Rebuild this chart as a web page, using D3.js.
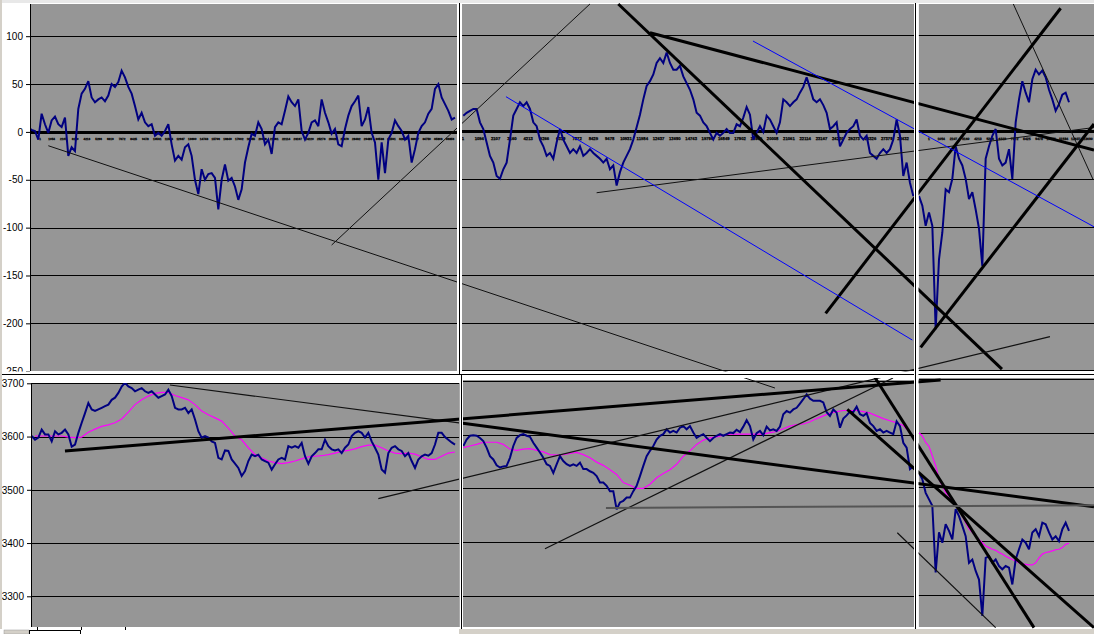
<!DOCTYPE html>
<html><head><meta charset="utf-8">
<script src="https://cdn.jsdelivr.net/npm/d3@7"></script>
<style>body{margin:0;background:#fff;} svg{display:block;font-family:Arial,"Liberation Sans",sans-serif;}</style>
</head><body>
<script>
// ---------- DATA ----------
const topTicks = [100, 50, 0, -50, -100, -150, -200, -250];
const botTicks = [3700, 3600, 3500, 3400, 3300];
// tiny category labels printed along the zero line of the upper chart
const catLabels = ["1","1054","2107","3160","4213","5266","6319","7372","8425","9478","10531","11584","12637","13690","14743","15796","16849","17902","18955","20008","21061","22114","23167","24220","25273","26326","27379","28432","29485","30538","31591","32644","33697","34750","35803","36856","37909","38962","40015","41068"];

const topLeft = [5,2,1,-8,19,8,-1,12,16,8,5,15,-25,-16,-20,24,40,45,53,36,31,34,36,32,38,50,47,52,64,57,47,40,27,13,20,10,6,8,-4,-1,-4,1,8,-13,-30,-25,-29,-16,-13,-25,-50,-65,-39,-50,-44,-43,-48,-81,-50,-34,-51,-48,-57,-71,-60,-32,-16,-2,-4,10,3,-13,-8,-23,5,10,8,22,37,31,27,34,1,-8,-1,10,12,6,34,20,10,-2,3,-13,-15,3,17,27,32,38,6,13,26,-1,-11,-50,-11,-43,-8,-1,12,6,1,-8,-4,-32,-18,-1,6,10,19,24,45,50,36,29,22,13,15];
const topMid = [16,19,21,23,23,9,2,-12,-26,-33,-47,-50,-40,-33,-9,16,23,30,26,30,23,9,5,-9,-16,-26,-23,-29,-12,2,-9,-16,-23,-19,-23,-16,-26,-23,-19,-23,-26,-29,-33,-29,-40,-36,-57,-43,-33,-26,-19,-9,4,17,33,47,52,59,71,76,71,82,71,64,64,68,57,50,43,33,19,16,9,5,-2,-9,-2,-5,-2,2,-2,-2,7,5,14,25,17,-9,-2,5,-1,16,12,5,-2,9,33,30,26,30,33,40,46,56,45,33,30,33,27,19,2,5,9,-16,-9,-2,2,5,12,-5,-9,-5,-23,-26,-29,-23,-19,-23,-19,-9,12,-5,-47,-33,-54,-68];
const topRight = [-68,-78,-99,-85,-99,-207,-134,-106,-61,-64,-50,-16,-29,-36,-50,-71,-64,-82,-102,-141,-29,-16,-5,2,-29,-36,-33,-19,-50,9,33,52,40,30,54,64,59,63,56,43,33,21,28,38,40,30];

const botLeft = [3601,3594,3598,3613,3604,3604,3591,3610,3604,3607,3613,3604,3581,3585,3607,3626,3644,3663,3651,3648,3651,3654,3657,3660,3669,3673,3682,3694,3701,3694,3691,3685,3688,3691,3685,3682,3685,3679,3673,3676,3679,3688,3676,3654,3651,3651,3654,3644,3651,3632,3610,3598,3601,3598,3591,3588,3560,3557,3574,3573,3557,3549,3541,3526,3535,3554,3566,3563,3566,3557,3554,3551,3538,3548,3557,3560,3557,3582,3579,3582,3579,3588,3563,3549,3563,3569,3576,3576,3594,3582,3576,3574,3576,3569,3579,3585,3601,3607,3610,3607,3598,3607,3591,3579,3566,3538,3532,3569,3579,3582,3576,3573,3563,3569,3554,3541,3557,3563,3566,3564,3569,3585,3607,3607,3599,3594,3589,3585];
const botLeftMA = [3601,3601,3601,3601,3601,3599,3598,3599,3608,3614,3619,3622,3626,3633,3646,3660,3669,3676,3681,3683,3683,3677,3673,3669,3660,3648,3641,3635,3629,3616,3601,3594,3579,3566,3560,3554,3551,3549,3551,3554,3558,3562,3563,3564,3566,3569,3572,3574,3577,3581,3584,3584,3579,3573,3569,3568,3569,3567,3562,3557,3557,3563,3569,3571];
const botMid = [3579,3591,3598,3599,3598,3594,3588,3576,3560,3554,3543,3539,3541,3542,3557,3579,3594,3599,3601,3598,3596,3585,3576,3567,3557,3545,3542,3529,3545,3560,3551,3545,3542,3545,3542,3548,3536,3536,3532,3529,3523,3511,3511,3505,3495,3495,3461,3474,3477,3483,3483,3495,3505,3523,3542,3560,3570,3579,3591,3598,3601,3610,3604,3607,3604,3613,3616,3610,3616,3604,3594,3598,3601,3594,3588,3594,3598,3601,3598,3601,3604,3603,3609,3605,3615,3627,3616,3591,3603,3607,3599,3615,3608,3610,3607,3615,3638,3644,3641,3647,3650,3658,3666,3675,3667,3663,3663,3663,3660,3642,3635,3647,3641,3613,3630,3636,3643,3642,3652,3638,3635,3640,3622,3616,3607,3610,3604,3607,3604,3601,3625,3616,3585,3576,3536,3541];
const botMidMA = [3576,3579,3582,3586,3586,3586,3582,3573,3571,3573,3574,3571,3568,3563,3562,3563,3565,3567,3563,3557,3549,3543,3535,3526,3511,3506,3500,3500,3508,3520,3528,3535,3545,3560,3570,3582,3590,3594,3596,3599,3601,3601,3601,3601,3601,3601,3604,3606,3611,3616,3619,3620,3624,3630,3635,3640,3643,3645,3645,3645,3643,3640,3635,3630,3626,3622,3617,3604];
const botRight = [3526,3514,3489,3477,3465,3342,3416,3397,3431,3419,3403,3459,3446,3428,3409,3360,3366,3345,3329,3262,3369,3372,3360,3366,3354,3348,3354,3351,3320,3366,3385,3403,3397,3385,3416,3422,3409,3434,3431,3416,3403,3409,3400,3422,3434,3419];
const botRightMA = [3600,3594,3582,3575,3557,3539,3514,3502,3489,3483,3474,3468,3462,3446,3434,3422,3416,3409,3403,3397,3391,3388,3385,3383,3379,3376,3372,3369,3366,3363,3360,3358,3357,3356,3356,3360,3369,3376,3379,3380,3382,3384,3385,3388,3394,3396];

// Drawn trend lines, in the middle window's data units: [index1, value1, index2, value2]
const topThinLines  = [[-124.5,-15.4,93.5,-268.4],[-39.5,-119.1,38.0,132.6],[40.0,-64.5,189.2,3.6],[165.0,132.6,189.0,-51.2]];
const topThickLines = [[46.5,132.6,161.6,-248.6],[56.0,102.6,189.2,-19.9],[108.7,-190.4,179.2,128.1],[137.2,-225.9,189.2,7.3]];
const topBlueLines  = [[12.8,35.8,134.7,-218.3],[86.9,93.9,189.2,-100.0]];
const botThinLines  = [[-88.0,3692.4,-0.7,3621.6],[-25.5,3481.0,176.0,3782.3],[24.5,3388.0,128.9,3705.4],[130.2,3417.7,159.7,3241.1]];
const botThickLines = [[-119.5,3569.7,143.2,3701.7],[-0.7,3621.6,189.2,3465.9],[123.2,3709.2,171.2,3241.1],[115.2,3647.2,189.2,3241.1]];
const botGrayLines  = [[42.8,3463.7,189.2,3468.7]];

// ---------- LAYOUT ----------
const W = 1094, H = 634;
const svg = d3.select('body').append('svg').attr('width', W).attr('height', H);
svg.append('rect').attr('width', W).attr('height', H).attr('fill', '#fff');
const defs = svg.append('defs');

const windows = [
  {id:'tL', panel:'top', box:[30,4,457,371],  dx:[28.3,455],   yd:[-250,100], yr:[371.2,36.2], s:topLeft, axis:true, cat:{n:36, r:[40,450], fs:3, y:140}},
  {id:'tM', panel:'top', box:[462,4,914,371], dx:[463.3,913.3], yd:[-250,100], yr:[370.4,35.2], s:topMid, cat:{n:28, r:[463,903], fs:4.2, y:139.5}},
  {id:'tR', panel:'top', box:[918.5,4,1094,371],dx:[919,1069],   yd:[-250,100], yr:[370.4,35.2], s:topRight, cat:{n:14, r:[929,1088], fs:3.4, y:139.5}},
  {id:'bL', panel:'bot', box:[31,383,459,627], dx:[31.7,455],  yd:[3300,3700], yr:[596.3,383.3], s:botLeft, ma:botLeftMA, madx:[35,455], axis:true},
  {id:'bM', panel:'bot', box:[463,380,914,627],dx:[463.3,913.3],yd:[3300,3600], yr:[596,434.7], s:botMid, ma:botMidMA, madx:[463.3,910]},
  {id:'bR', panel:'bot', box:[918.5,378,1094,627],dx:[919,1069],  yd:[3300,3600], yr:[595.3,432.7], s:botRight, ma:botRightMA, madx:[919,1069]}
];

const scales = {};
windows.forEach(w => {
  const [x0,y0,x1,y1] = w.box;
  const x = d3.scaleLinear().domain([0, w.s.length-1]).range(w.dx);
  const y = d3.scaleLinear().domain(w.yd).range(w.yr);
  scales[w.id] = {x, y};
  defs.append('clipPath').attr('id','clip-'+w.id).append('rect')
    .attr('x',x0).attr('y',y0).attr('width',x1-x0).attr('height',y1-y0);
  const g = svg.append('g').attr('clip-path','url(#clip-'+w.id+')');
  g.append('rect').attr('x',x0).attr('y',y0).attr('width',x1-x0).attr('height',y1-y0).attr('fill','#969696');
  const ticks = w.panel==='top' ? topTicks : botTicks;
  ticks.forEach(t => {
    const yy = Math.round(y(t)) + 0.5;
    g.append('line').attr('x1',x0).attr('x2',x1).attr('y1',yy).attr('y2',yy)
      .attr('stroke','#000').attr('stroke-width', (w.panel==='top' && t===0) ? 3 : 1);
  });
  if (w.cat) {
    const labs = catLabels.slice(0, w.cat.n);
    const xc = d3.scalePoint().domain(labs).range(w.cat.r);
    g.append('g').style('text-rendering','geometricPrecision').selectAll('text').data(labs).enter().append('text')
      .attr('x', d=>xc(d)).attr('y', w.cat.y).attr('text-anchor','middle')
      .attr('font-size', w.cat.fs).attr('font-weight','bold').attr('fill','#000')
      .attr('stroke','#000').attr('stroke-width',0.25)
      .text(d=>d);
  }
  const line = d3.line().x((d,i)=>x(i)).y(d=>y(d));
  if (w.ma) {
    const xm = d3.scaleLinear().domain([0, w.ma.length-1]).range(w.madx);
    g.append('path').attr('d', d3.line().x((d,i)=>xm(i)).y(d=>y(d))(w.ma))
      .attr('fill','none').attr('stroke','#ff00ff').attr('stroke-width',1.2);
  }
  g.append('path').attr('d', line(w.s)).attr('fill','none')
    .attr('stroke','#000080').attr('stroke-width',2).attr('stroke-linejoin','miter').attr('stroke-miterlimit',3);
  if (w.axis) {
    const ag = svg.append('g').attr('transform',`translate(${x0},0)`);
    if (w.panel==='top') {
      defs.append('clipPath').attr('id','clip-ax').append('rect').attr('x',-40).attr('y',0).attr('width',60).attr('height',372.5);
      ag.attr('clip-path','url(#clip-ax)');
    }
    ag.call(d3.axisLeft(y).tickValues(ticks).tickSize(4).tickPadding(3).tickFormat(d=>String(d)));
    ag.select('.domain').remove();
    ag.selectAll('text').attr('font-size',10).attr('fill','#000').attr('font-family','Arial, "Liberation Sans", sans-serif');
    ag.selectAll('line').attr('stroke','#000');
    svg.append('line').attr('x1',x0+0.5).attr('x2',x0+0.5).attr('y1',y0).attr('y2',y1).attr('stroke','#000');
  }
});

// ---------- drawn trend lines ----------
const lg = svg.append('g');
function drawLines(arr, sc, color, width) {
  lg.selectAll(null).data(arr).enter().append('line')
    .attr('x1', d=>sc.x(d[0])).attr('y1', d=>sc.y(d[1]))
    .attr('x2', d=>sc.x(d[2])).attr('y2', d=>sc.y(d[3]))
    .attr('stroke', color).attr('stroke-width', width);
}
drawLines(topThinLines, scales.tM, '#111', 1);
drawLines(topThickLines, scales.tM, '#000', 3);
drawLines(topBlueLines, scales.tM, '#0000ff', 1);
drawLines(botThinLines, scales.bM, '#111', 1.2);
drawLines(botThickLines, scales.bM, '#000', 3);
drawLines(botGrayLines, scales.bM, '#555', 2);

// ---------- window split bars ----------
const sep = svg.append('g');
sep.append('rect').attr('x',0).attr('y',371.5).attr('width',W).attr('height',6.5).attr('fill','#fff');
sep.append('line').attr('x1',0).attr('x2',W).attr('y1',374.5).attr('y2',374.5).attr('stroke','#000');
sep.append('rect').attr('x',457).attr('y',3).attr('width',5).attr('height',369).attr('fill','#fff');
sep.append('line').attr('x1',459.5).attr('x2',459.5).attr('y1',3).attr('y2',375).attr('stroke','#000');
sep.append('rect').attr('x',459).attr('y',375).attr('width',4).attr('height',253).attr('fill','#fff');
sep.append('line').attr('x1',459.5).attr('x2',459.5).attr('y1',383).attr('y2',627).attr('stroke','#aaa');
sep.append('line').attr('x1',461.5).attr('x2',461.5).attr('y1',374.5).attr('y2',629).attr('stroke','#000');
sep.append('rect').attr('x',914).attr('y',3).attr('width',4.5).attr('height',625).attr('fill','#fff');
sep.append('line').attr('x1',915.5).attr('x2',915.5).attr('y1',3).attr('y2',629).attr('stroke','#000');
sep.append('rect').attr('x',0).attr('y',0).attr('width',W).attr('height',3).attr('fill','#e8e8e8');
sep.append('rect').attr('x',0).attr('y',0).attr('width',2).attr('height',H).attr('fill','#d4d0c8');
sep.append('rect').attr('x',0).attr('y',629).attr('width',W).attr('height',5).attr('fill','#fff');
sep.append('rect').attr('x',459).attr('y',629).attr('width',W-459).attr('height',5).attr('fill','#d4d0c8');
[37,81,125].forEach(xx => sep.append('line').attr('x1',xx+0.5).attr('x2',xx+0.5).attr('y1',627).attr('y2',630).attr('stroke','#000'));
sep.append('rect').attr('x',4).attr('y',630).attr('width',25).attr('height',4).attr('fill','#d4d0c8').attr('stroke','#999').attr('stroke-width',0.5);
sep.append('rect').attr('x',29.5).attr('y',630.5).attr('width',51).attr('height',4).attr('fill','#fff').attr('stroke','#000').attr('stroke-width',1);
</script>
</body></html>
